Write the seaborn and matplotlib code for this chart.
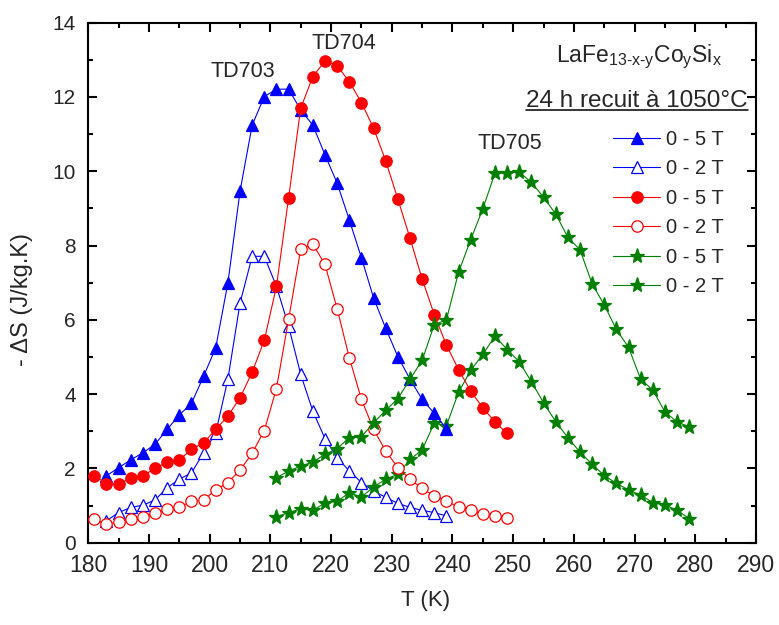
import matplotlib
matplotlib.use("Agg")
import matplotlib.pyplot as plt
from matplotlib.ticker import MultipleLocator
from matplotlib.lines import Line2D
import seaborn as sns
import pandas as pd

# ---------------- data ----------------
T_td703 = [183, 185, 187, 189, 191, 193, 195, 197, 199, 201, 203, 205, 207, 209, 211,
           213, 215, 217, 219, 221, 223, 225, 227, 229, 231, 233, 235, 237, 239]
td703_5T = [1.80, 2.02, 2.23, 2.42, 2.65, 3.05, 3.44, 3.75, 4.48, 5.25, 6.99, 9.46, 11.24,
            12.01, 12.21, 12.21, 11.65, 11.24, 10.44, 9.68, 8.69, 7.67, 6.59, 5.77, 5.01,
            4.40, 3.86, 3.48, 3.07]
td703_2T = [0.59, 0.81, 0.95, 1.01, 1.15, 1.48, 1.71, 1.88, 2.42, 2.96, 4.40, 6.45, 7.71,
            7.71, 6.90, 5.83, 4.53, 3.54, 2.80, 2.29, 1.93, 1.62, 1.39, 1.22, 1.06, 0.95,
            0.87, 0.81, 0.72]

T_td704 = [181, 183, 185, 187, 189, 191, 193, 195, 197, 199, 201, 203, 205, 207, 209, 211,
           213, 215, 217, 219, 221, 223, 225, 227, 229, 231, 233, 235, 237, 239, 241, 243,
           245, 247, 249]
td704_5T = [1.80, 1.59, 1.57, 1.74, 1.80, 2.00, 2.17, 2.23, 2.51, 2.69, 3.05, 3.41, 3.90,
            4.59, 5.45, 6.90, 9.28, 11.70, 12.55, 12.97, 12.84, 12.41, 11.85, 11.16, 10.28,
            9.25, 8.20, 7.10, 6.14, 5.32, 4.66, 4.08, 3.63, 3.25, 2.94]
td704_2T = [0.63, 0.49, 0.56, 0.63, 0.70, 0.79, 0.91, 0.96, 1.11, 1.15, 1.42, 1.62, 1.95,
            2.41, 3.02, 4.15, 6.01, 7.91, 8.04, 7.49, 6.30, 4.98, 3.86, 3.05, 2.47, 2.02,
            1.71, 1.46, 1.26, 1.11, 0.97, 0.87, 0.78, 0.72, 0.66]

T_td705 = [211, 213, 215, 217, 219, 221, 223, 225, 227, 229, 231, 233, 235, 237, 239, 241,
           243, 245, 247, 249, 251, 253, 255, 257, 259, 261, 263, 265, 267, 269, 271, 273,
           275, 277, 279]
td705_5T = [1.75, 1.93, 2.06, 2.17, 2.38, 2.53, 2.83, 2.85, 3.23, 3.56, 3.88, 4.40, 4.91,
            5.87, 6.00, 7.28, 8.16, 8.99, 9.95, 9.95, 9.98, 9.70, 9.30, 8.85, 8.22, 7.89,
            6.97, 6.40, 5.74, 5.26, 4.40, 4.11, 3.52, 3.25, 3.12]
td705_2T = [0.70, 0.81, 0.91, 0.87, 1.07, 1.12, 1.34, 1.23, 1.50, 1.71, 1.84, 2.24, 2.50,
            3.22, 3.15, 4.05, 4.64, 5.07, 5.56, 5.20, 4.87, 4.33, 3.77, 3.26, 2.83, 2.44,
            2.11, 1.81, 1.60, 1.42, 1.28, 1.08, 1.02, 0.87, 0.65]

legend_labels = ["0 - 5 T", "0 - 2 T", "0 - 5 T", "0 - 2 T", "0 - 5 T", "0 - 2 T"]
x_ticks = [180, 190, 200, 210, 220, 230, 240, 250, 260, 270, 280, 290]
y_ticks = [0, 2, 4, 6, 8, 10, 12, 14]

# ---------------- style ----------------
sns.set_theme(style="ticks")
plt.rcParams["font.family"] = ["Liberation Sans", "DejaVu Sans"]
plt.rcParams["mathtext.fontset"] = "custom"
plt.rcParams["mathtext.rm"] = "Liberation Sans"
plt.rcParams["mathtext.it"] = "Liberation Sans:italic"
plt.rcParams["mathtext.bf"] = "Liberation Sans:bold"

BLUE = "#0000FF"
RED = "#FF0000"
GREEN = "#007F00"

series = [
    (T_td703, td703_5T, BLUE, "^", BLUE, 9.0, 3.0),
    (T_td703, td703_2T, BLUE, "^", "white", 9.0, 2.5),
    (T_td704, td704_5T, RED, "o", RED, 8.2, 4.0),
    (T_td704, td704_2T, RED, "o", "white", 8.2, 3.5),
    (T_td705, td705_5T, GREEN, "*", GREEN, 11.0, 5.0),
    (T_td705, td705_2T, GREEN, "*", GREEN, 11.0, 2.8),
]

fig = plt.figure(figsize=(7.79, 6.25), dpi=100)
ax = fig.add_axes([0.1133, 0.1317, 0.8572, 0.832])

for (T, vals, col, mk, fc, ms, z), lab in zip(series, legend_labels):
    df = pd.DataFrame({"T": T, "dS": vals})
    sns.lineplot(data=df, x="T", y="dS", ax=ax, color=col, lw=0.8,
                 marker=mk, markersize=ms, markerfacecolor=fc,
                 markeredgecolor=col, markeredgewidth=0.9,
                 label=lab, zorder=z, errorbar=None, legend=False)

ax.set_xlim(180, 290)
ax.set_ylim(0, 14)
ax.set_xticks(x_ticks)
ax.set_yticks(y_ticks)
ax.xaxis.set_minor_locator(MultipleLocator(5))
ax.yaxis.set_minor_locator(MultipleLocator(1))
ax.tick_params(which="both", direction="in", top=True, right=True,
               width=1.5, color="black")
ax.tick_params(which="major", length=6.5)
ax.tick_params(which="minor", length=3.5)
ax.tick_params(axis="x", which="major", labelsize=16.5, pad=8)
ax.tick_params(axis="y", which="major", labelsize=15, pad=9)
for sp in ax.spines.values():
    sp.set_linewidth(1.5)
    sp.set_color("black")
ax.grid(False)

ax.set_xlabel("T (K)", fontsize=16)
ax.set_ylabel("- \u0394S (J/kg.K)", fontsize=17)
ax.xaxis.set_label_coords(0.505, -0.091)
ax.yaxis.set_label_coords(-0.083, 0.467)

# annotations
ax.text(0.231, 0.896, "TD703", transform=ax.transAxes, ha="center", va="baseline", fontsize=15.5)
ax.text(0.383, 0.949, "TD704", transform=ax.transAxes, ha="center", va="baseline", fontsize=15.5)
ax.text(0.631, 0.758, "TD705", transform=ax.transAxes, ha="center", va="baseline", fontsize=15.5)

ax.text(0.9486, 0.925,
        r"LaFe$_{\text{13-x-y}}$Co$_{\text{y}}$Si$_{\text{x}}$",
        transform=ax.transAxes, ha="right", va="baseline", fontsize=16.5)
sub = ax.text(0.988, 0.838, "24 h recuit \u00e0 1050\u00b0C", transform=ax.transAxes,
              ha="right", va="baseline", fontsize=17.5)

leg = ax.legend(loc="upper left", bbox_to_anchor=(0.786, 0.794), frameon=False,
                fontsize=14.5, handlelength=2.35, handletextpad=0.3,
                labelspacing=0.52, borderpad=0, borderaxespad=0, numpoints=1)

# underline for the annealing text
fig.canvas.draw()
bb = sub.get_window_extent(renderer=fig.canvas.get_renderer())
inv = ax.transAxes.inverted()
(x0, _), (x1, _) = inv.transform([(bb.x0, 0), (bb.x1, 0)])
ax_h_px = ax.get_window_extent().height
yline = 0.838 - 3.0 / ax_h_px
ax.add_line(Line2D([x0, x1], [yline, yline], transform=ax.transAxes,
                   color="black", lw=1.1, clip_on=False))

fig.savefig("out.png", dpi=100)
